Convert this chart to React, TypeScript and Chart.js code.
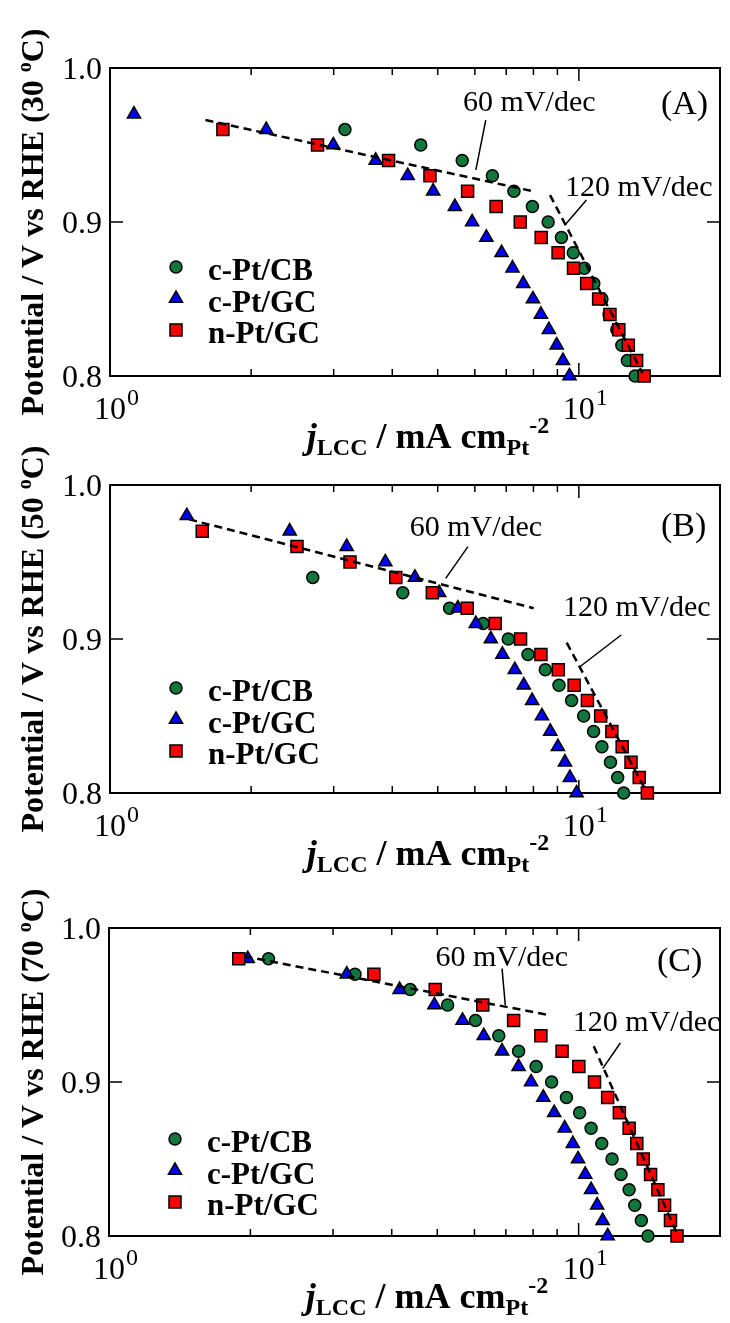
import React, { useEffect, useRef } from 'react';
import { Chart, registerables } from 'chart.js';
Chart.register(...registerables);

// ---------- axes ----------
const X_MIN = 1;
const X_MAX = 20;
const Y_MIN = 0.8;
const Y_MAX = 1.0;
const X_MINOR_TICKS = [2, 3, 4, 5, 6, 7, 8, 9];
const X_MAJOR_TICKS = [1, 10];
const X_MAJOR_EXP = ['0', '1'];
const Y_TICKS = [0.8, 0.9, 1.0];
const Y_TICK_LABELS = ['0.8', '0.9', '1.0'];
const SERIES_NAMES = ['c-Pt/CB', 'c-Pt/GC', 'n-Pt/GC'];

// ---------- (A) 30 °C ----------
const A_CB_J = [3.17, 4.6, 5.64, 6.54, 7.27, 7.96, 8.6, 9.18, 9.73, 10.27, 10.76, 11.2, 11.6, 12.05, 12.35, 12.69, 13.18];
const A_CB_E = [0.96, 0.95, 0.94, 0.93, 0.92, 0.91, 0.9, 0.89, 0.88, 0.87, 0.86, 0.85, 0.84, 0.83, 0.82, 0.81, 0.8];
const A_GC_J = [1.125, 2.154, 2.994, 3.687, 4.315, 4.89, 5.44, 5.92, 6.35, 6.84, 7.22, 7.61, 7.98, 8.3, 8.63, 8.97, 9.25, 9.55];
const A_GC_E = [0.97, 0.96, 0.95, 0.94, 0.93, 0.92, 0.91, 0.9, 0.89, 0.88, 0.87, 0.86, 0.85, 0.84, 0.83, 0.82, 0.81, 0.8];
const A_NGC_J = [1.741, 2.771, 3.928, 4.813, 5.79, 6.66, 7.5, 8.31, 9.03, 9.74, 10.39, 11.02, 11.65, 12.17, 12.75, 13.28, 13.78];
const A_NGC_E = [0.96, 0.95, 0.94, 0.93, 0.92, 0.91, 0.9, 0.89, 0.88, 0.87, 0.86, 0.85, 0.84, 0.83, 0.82, 0.81, 0.8];
const A_T60_J = [1.598, 8.05];
const A_T60_E = [0.9662, 0.9197];
const A_T120_J = [8.68, 13.67];
const A_T120_E = [0.9175, 0.8018];

// ---------- (B) 50 °C ----------
const B_CB_J = [2.707, 4.212, 5.3, 6.25, 7.07, 7.79, 8.48, 9.07, 9.65, 10.24, 10.75, 11.2, 11.68, 12.1, 12.46];
const B_CB_E = [0.94, 0.93, 0.92, 0.91, 0.9, 0.89, 0.88, 0.87, 0.86, 0.85, 0.84, 0.83, 0.82, 0.81, 0.8];
const B_GC_J = [1.458, 2.417, 3.198, 3.865, 4.471, 5.035, 5.52, 6.03, 6.49, 6.87, 7.3, 7.63, 7.95, 8.34, 8.69, 9.02, 9.34, 9.57, 9.89];
const B_GC_E = [0.98, 0.97, 0.96, 0.95, 0.94, 0.93, 0.92, 0.91, 0.9, 0.89, 0.88, 0.87, 0.86, 0.85, 0.84, 0.83, 0.82, 0.81, 0.8];
const B_NGC_J = [1.573, 2.505, 3.25, 4.07, 4.87, 5.78, 6.63, 7.51, 8.3, 9.04, 9.77, 10.43, 11.13, 11.76, 12.37, 12.92, 13.45, 14.0];
const B_NGC_E = [0.97, 0.96, 0.95, 0.94, 0.93, 0.92, 0.91, 0.9, 0.89, 0.88, 0.87, 0.86, 0.85, 0.84, 0.83, 0.82, 0.81, 0.8];
const B_T60_J = [1.475, 8.01];
const B_T60_E = [0.9777, 0.92];
const B_T120_J = [9.42, 13.85];
const B_T120_E = [0.8976, 0.8025];

// ---------- (C) 70 °C ----------
const C_CB_J = [2.186, 3.34, 4.38, 5.26, 6.03, 6.76, 7.45, 8.12, 8.76, 9.42, 10.05, 10.63, 11.2, 11.78, 12.31, 12.81, 13.17, 13.6, 14.05];
const C_CB_E = [0.98, 0.97, 0.96, 0.95, 0.94, 0.93, 0.92, 0.91, 0.9, 0.89, 0.88, 0.87, 0.86, 0.85, 0.84, 0.83, 0.82, 0.81, 0.8];
const C_GC_J = [1.974, 3.209, 4.157, 4.93, 5.66, 6.28, 6.87, 7.45, 7.92, 8.41, 8.87, 9.34, 9.72, 9.97, 10.33, 10.63, 10.95, 11.25, 11.53];
const C_GC_E = [0.98, 0.97, 0.96, 0.95, 0.94, 0.93, 0.92, 0.91, 0.9, 0.89, 0.88, 0.87, 0.86, 0.85, 0.84, 0.83, 0.82, 0.81, 0.8];
const C_NGC_J = [1.889, 3.665, 4.95, 6.25, 7.27, 8.31, 9.22, 10.01, 10.81, 11.53, 12.21, 12.81, 13.3, 13.73, 14.23, 14.75, 15.24, 15.69, 16.2];
const C_NGC_E = [0.98, 0.97, 0.96, 0.95, 0.94, 0.93, 0.92, 0.91, 0.9, 0.89, 0.88, 0.87, 0.86, 0.85, 0.84, 0.83, 0.82, 0.81, 0.8];
const C_T60_J = [1.943, 8.69];
const C_T60_E = [0.9816, 0.9433];
const C_T120_J = [10.77, 16.2];
const C_T120_E = [0.9232, 0.8016];

// ---------- styles ----------
const GREEN = '#12773d';
const BLUE = '#0000ff';
const RED = '#ff0000';
const SERIF = '"Liberation Serif", "Times New Roman", serif';
const PAD_TOP = 68;
const PLOT_H = 308;
const CANVAS_H = 462;
const PLOT_RIGHT = 725;

const PANELS = [
  {
    temp: '30', tag: '(A)', top: 68, left: 110, legendTop: 199,
    cb: [A_CB_J, A_CB_E], gc: [A_GC_J, A_GC_E], ngc: [A_NGC_J, A_NGC_E],
    t60: [A_T60_J, A_T60_E], t120: [A_T120_J, A_T120_E],
    tagAt: [16.8, 0.976],
    lab60: [7.84, 0.9773], lead60: [[6.33, 0.9662], [6.03, 0.9338]],
    lab120: [13.42, 0.9221], lead120: [[10.38, 0.9143], [9.34, 0.8981]],
  },
  {
    temp: '50', tag: '(B)', top: 485, left: 110, legendTop: 203,
    cb: [B_CB_J, B_CB_E], gc: [B_GC_J, B_GC_E], ngc: [B_NGC_J, B_NGC_E],
    t60: [B_T60_J, B_T60_E], t120: [B_T120_J, B_T120_E],
    tagAt: [16.73, 0.9727],
    lab60: [6.03, 0.9721], lead60: [[5.8, 0.96], [5.2, 0.9394]],
    lab120: [13.29, 0.9201], lead120: [[12.31, 0.9026], [10.05, 0.882]],
  },
  {
    temp: '70', tag: '(C)', top: 928, left: 109, legendTop: 211,
    cb: [C_CB_J, C_CB_E], gc: [C_GC_J, C_GC_E], ngc: [C_NGC_J, C_NGC_E],
    t60: [C_T60_J, C_T60_E], t120: [C_T120_J, C_T120_E],
    tagAt: [16.41, 0.9779],
    lab60: [6.86, 0.9803], lead60: [[6.87, 0.9736], [6.98, 0.9498]],
    lab120: [13.95, 0.9381], lead120: [[12.27, 0.9253], [11.25, 0.9087]],
  },
];

function pts(j: number[], e: number[]) {
  return j.map((v, i) => ({ x: v, y: e[i] }));
}

function drawMarker(ctx: CanvasRenderingContext2D, kind: string, x: number, y: number, fill: string) {
  ctx.save();
  ctx.fillStyle = fill;
  ctx.strokeStyle = '#000';
  ctx.lineWidth = 1.5;
  ctx.beginPath();
  if (kind === 'circle') {
    ctx.arc(x, y, 6, 0, Math.PI * 2);
  } else if (kind === 'triangle') {
    const r = 7.6;
    for (let k = 0; k < 3; k++) {
      const ang = (k * 2 * Math.PI) / 3;
      const px = x + Math.sin(ang) * r;
      const py = y - Math.cos(ang) * r;
      if (k === 0) ctx.moveTo(px, py); else ctx.lineTo(px, py);
    }
    ctx.closePath();
  } else {
    const s = 8.5 * Math.SQRT1_2;
    ctx.rect(x - s, y - s, 2 * s, 2 * s);
  }
  ctx.fill();
  ctx.stroke();
  ctx.restore();
}

type Run = { t: string; font: string; dy: number };
function drawRuns(ctx: CanvasRenderingContext2D, runs: Run[], x: number, y: number) {
  let cx = x;
  for (const r of runs) {
    ctx.font = r.font;
    ctx.fillText(r.t, cx, y + r.dy);
    cx += ctx.measureText(r.t).width;
  }
}
function runsWidth(ctx: CanvasRenderingContext2D, runs: Run[]) {
  let w = 0;
  for (const r of runs) {
    ctx.font = r.font;
    w += ctx.measureText(r.t).width;
  }
  return w;
}

const framePlugin = {
  id: 'frame',
  beforeDatasetsDraw(chart: any, _args: any, cfg: any) {
    const { ctx, chartArea: a } = chart;
    const xs = chart.scales.x;
    const ys = chart.scales.y;
    ctx.save();
    ctx.strokeStyle = '#000';
    ctx.fillStyle = '#000';
    ctx.lineWidth = 2;
    ctx.strokeRect(a.left, a.top, a.right - a.left, a.bottom - a.top);

    ctx.lineWidth = 1.5;
    ctx.beginPath();
    for (const v of X_MINOR_TICKS) {
      const px = xs.getPixelForValue(v);
      ctx.moveTo(px, a.bottom); ctx.lineTo(px, a.bottom - 7);
      ctx.moveTo(px, a.top); ctx.lineTo(px, a.top + 7);
    }
    for (const v of X_MAJOR_TICKS) {
      const px = xs.getPixelForValue(v);
      ctx.moveTo(px, a.bottom); ctx.lineTo(px, a.bottom - 13);
      ctx.moveTo(px, a.top); ctx.lineTo(px, a.top + 13);
    }
    for (const v of Y_TICKS) {
      const py = ys.getPixelForValue(v);
      ctx.moveTo(a.left, py); ctx.lineTo(a.left + 13, py);
      ctx.moveTo(a.right, py); ctx.lineTo(a.right - 13, py);
    }
    ctx.stroke();

    // y tick labels
    ctx.font = `32px ${SERIF}`;
    ctx.textAlign = 'right';
    ctx.textBaseline = 'alphabetic';
    Y_TICKS.forEach((v, i) => {
      const py = ys.getPixelForValue(v);
      ctx.fillText(Y_TICK_LABELS[i], a.left - 8, py + 11);
    });

    // x tick labels 10^n
    ctx.textAlign = 'left';
    X_MAJOR_TICKS.forEach((v, i) => {
      const px = xs.getPixelForValue(v);
      ctx.font = `32px ${SERIF}`;
      const w = ctx.measureText('10').width;
      ctx.fillText('10', px - w / 2, a.bottom + 43);
      ctx.font = `24px ${SERIF}`;
      ctx.fillText(X_MAJOR_EXP[i], px + w / 2 + 1, a.bottom + 29);
    });

    // x title
    const xRuns: Run[] = [
      { t: 'j', font: `italic bold 36px ${SERIF}`, dy: 0 },
      { t: 'LCC', font: `bold 24px ${SERIF}`, dy: 7 },
      { t: ' / mA cm', font: `bold 36px ${SERIF}`, dy: 0 },
      { t: 'Pt', font: `bold 24px ${SERIF}`, dy: 7 },
      { t: '-2', font: `bold 24px ${SERIF}`, dy: -15 },
    ];
    const xw = runsWidth(ctx, xRuns);
    drawRuns(ctx, xRuns, a.left + 318 - xw / 2, a.bottom + 72);

    // y title (rotated)
    const yRuns: Run[] = [
      { t: `Potential / V vs RHE (${cfg.temp} `, font: `bold 32px ${SERIF}`, dy: 0 },
      { t: 'o', font: `bold 20px ${SERIF}`, dy: -12 },
      { t: 'C)', font: `bold 32px ${SERIF}`, dy: 0 },
    ];
    const yw = runsWidth(ctx, yRuns);
    ctx.save();
    ctx.translate(43, (a.top + a.bottom) / 2);
    ctx.rotate(-Math.PI / 2);
    drawRuns(ctx, yRuns, -yw / 2, 0);
    ctx.restore();

    // legend
    const kinds = ['circle', 'triangle', 'rect'];
    const fills = [GREEN, BLUE, RED];
    SERIES_NAMES.forEach((name, i) => {
      const ry = a.top + cfg.legendTop + i * 31.5;
      drawMarker(ctx, kinds[i], a.left + 66, ry, fills[i]);
      ctx.fillStyle = '#000';
      ctx.font = `bold 31px ${SERIF}`;
      ctx.textAlign = 'left';
      ctx.fillText(name, a.left + 98, ry + 13);
    });

    // annotations
    ctx.fillStyle = '#000';
    ctx.textAlign = 'center';
    ctx.textBaseline = 'middle';
    ctx.font = `34px ${SERIF}`;
    ctx.fillText(cfg.tag, xs.getPixelForValue(cfg.tagAt[0]), ys.getPixelForValue(cfg.tagAt[1]));
    ctx.font = `30px ${SERIF}`;
    ctx.fillText('60 mV/dec', xs.getPixelForValue(cfg.lab60[0]), ys.getPixelForValue(cfg.lab60[1]));
    ctx.fillText('120 mV/dec', xs.getPixelForValue(cfg.lab120[0]), ys.getPixelForValue(cfg.lab120[1]));
    ctx.lineWidth = 1.5;
    ctx.beginPath();
    for (const ld of [cfg.lead60, cfg.lead120]) {
      ctx.moveTo(xs.getPixelForValue(ld[0][0]), ys.getPixelForValue(ld[0][1]));
      ctx.lineTo(xs.getPixelForValue(ld[1][0]), ys.getPixelForValue(ld[1][1]));
    }
    ctx.stroke();
    ctx.restore();
  },
};

function Panel({ cfg }: { cfg: any }) {
  const ref = useRef<HTMLCanvasElement>(null);
  useEffect(() => {
    const marker = (label: string, d: number[][], style: string, color: string, r: number, order: number) => ({
      label,
      data: pts(d[0], d[1]),
      showLine: false,
      pointStyle: style,
      pointRadius: r,
      pointHoverRadius: r,
      pointBackgroundColor: color,
      pointBorderColor: '#000',
      pointBorderWidth: 1.5,
      clip: false,
      order,
    });
    const dashed = (d: number[][]) => ({
      label: 'fit',
      data: pts(d[0], d[1]),
      showLine: true,
      borderColor: '#000',
      borderWidth: 2.5,
      borderDash: [8, 5],
      pointRadius: 0,
      fill: false,
      clip: false,
      order: 0,
    });
    const chart = new Chart(ref.current as HTMLCanvasElement, {
      type: 'scatter',
      data: {
        datasets: [
          dashed(cfg.t60),
          dashed(cfg.t120),
          marker(SERIES_NAMES[2], cfg.ngc, 'rect', RED, 8.5, 1),
          marker(SERIES_NAMES[1], cfg.gc, 'triangle', BLUE, 7.6, 2),
          marker(SERIES_NAMES[0], cfg.cb, 'circle', GREEN, 6, 3),
        ] as any,
      },
      options: {
        responsive: false,
        animation: false,
        events: [],
        layout: { padding: { top: PAD_TOP, right: 730 - PLOT_RIGHT, left: 0, bottom: 0 } },
        plugins: {
          legend: { display: false },
          tooltip: { enabled: false },
          frame: cfg,
        } as any,
        scales: {
          x: {
            type: 'logarithmic',
            min: X_MIN,
            max: X_MAX,
            position: 'bottom',
            ticks: { display: false },
            grid: { display: false },
            border: { display: false },
            afterFit: (s: any) => { s.height = CANVAS_H - PAD_TOP - PLOT_H; },
          },
          y: {
            type: 'linear',
            min: Y_MIN,
            max: Y_MAX,
            ticks: { display: false },
            grid: { display: false },
            border: { display: false },
            afterFit: (s: any) => { s.width = cfg.left; },
          },
        } as any,
      },
      plugins: [framePlugin as any],
    });
    return () => chart.destroy();
  }, []);
  return (
    <canvas
      ref={ref}
      width={730}
      height={CANVAS_H}
      style={{ position: 'absolute', left: 0, top: cfg.top - PAD_TOP, width: 730, height: CANVAS_H }}
    />
  );
}

export default function App() {
  return (
    <div style={{ position: 'absolute', left: 0, top: 0, width: 730, height: 1323, background: '#fff', overflow: 'hidden' }}>
      {PANELS.map((p, i) => (
        <Panel key={i} cfg={p} />
      ))}
    </div>
  );
}
